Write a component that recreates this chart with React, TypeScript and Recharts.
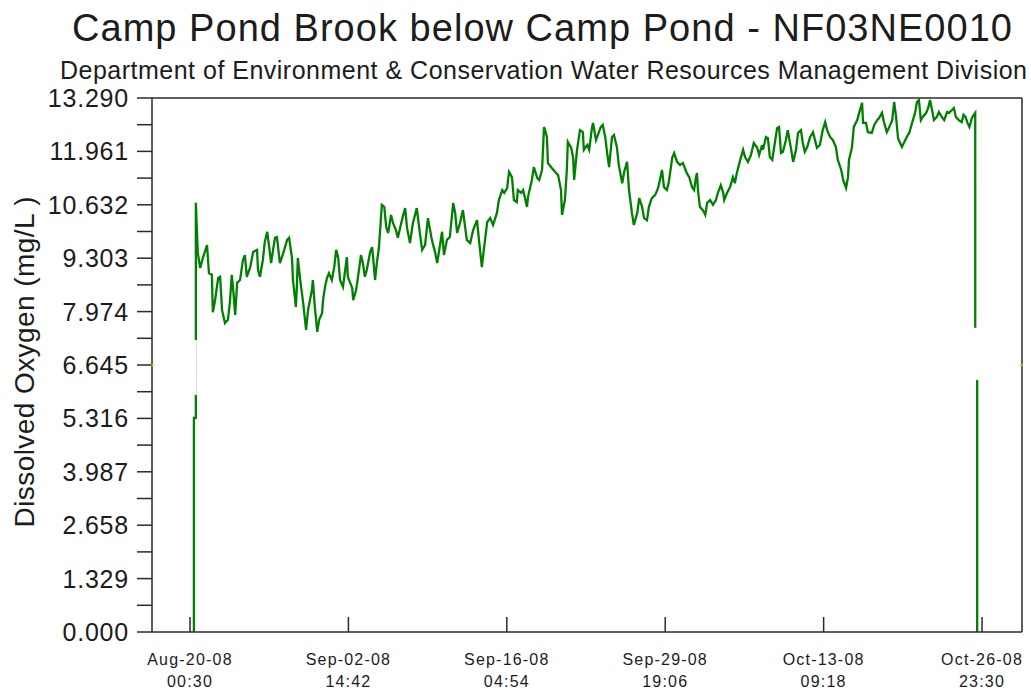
import React from 'react';
import {
  LineChart,
  Line,
  XAxis,
  YAxis,
  ReferenceLine,
  ReferenceArea,
  ReferenceDot,
} from 'recharts';

const FONT = '"Liberation Sans", Arial, sans-serif';
const INK = '#1c1c1c';
const AXIS = '#2a2a2a';
const TRACE = '#008000';
const GUIDE = '#f0a030';

const TITLE = 'Camp Pond Brook below Camp Pond - NF03NE0010';
const SUBTITLE =
  'Department of Environment & Conservation Water Resources Management Division';
const Y_LABEL = 'Dissolved Oxygen (mg/L )';

// Time axis: hours since Aug-20-08 00:30
const xDomain: [number, number] = [-78.3, 1713.3];
const xTickHours = [0, 326.2, 652.4, 978.6, 1304.8, 1631];
const xTickDates = ['Aug-20-08', 'Sep-02-08', 'Sep-16-08', 'Sep-29-08', 'Oct-13-08', 'Oct-26-08'];
const xTickTimes = ['00:30', '14:42', '04:54', '19:06', '09:18', '23:30'];

// Value axis (mg/L)
const yTickValues = [0, 1.329, 2.658, 3.987, 5.316, 6.645, 7.974, 9.303, 10.632, 11.961, 13.29];
const yTickLabels = ['0.000', '1.329', '2.658', '3.987', '5.316', '6.645', '7.974', '9.303', '10.632', '11.961', '13.290'];
const guideLevel = 6.645;

// Dissolved oxygen readings: [hour, mg/L]
const readings: [number, number][] = [
  [8, 0], [8, 5.33], [12, 5.33], [12, 10.68], [14, 10.05], [16, 9.43], [21, 9.06], [27, 9.33],
  [35, 9.63], [39, 8.93], [45, 8.89], [47, 7.96], [51, 8.21], [58, 8.81], [62, 8.84], [66, 8.01],
  [72, 7.69], [78, 7.77], [82, 8.19], [86, 8.89], [89, 8.51], [93, 7.89], [97, 8.69], [103, 8.76],
  [109, 9.26], [113, 9.38], [117, 8.84], [124, 9.08], [130, 9.46], [138, 9.51], [140, 9.01], [144, 8.84],
  [150, 9.26], [154, 9.71], [159, 9.96], [163, 9.58], [167, 9.18], [171, 9.51], [175, 9.81], [179, 9.83],
  [185, 9.18], [192, 9.43], [200, 9.76], [204, 9.81], [210, 9.31], [212, 8.76], [218, 8.09], [220, 8.59],
  [222, 9.31], [227, 8.76], [233, 8.19], [239, 7.52], [243, 8.01], [251, 8.51], [253, 8.76], [257, 8.09],
  [262, 7.47], [266, 7.77], [272, 7.94], [274, 8.26], [278, 8.59], [282, 8.81], [286, 8.93], [292, 8.76],
  [297, 9.08], [301, 9.51], [305, 9.33], [309, 8.76], [315, 8.59], [323, 9.33], [325, 8.84], [334, 8.56],
  [336, 8.26], [342, 8.51], [346, 8.84], [352, 9.38], [356, 9.18], [360, 8.84], [364, 9.01], [371, 9.46],
  [375, 9.58], [377, 9.33], [381, 8.76], [385, 9.21], [389, 9.56], [395, 10.63], [400, 10.58], [404, 10.08],
  [408, 9.93], [414, 10.38], [418, 10.18], [424, 10.0], [428, 9.81], [435, 10.18], [439, 10.38], [443, 10.55],
  [447, 10.05], [453, 9.68], [459, 10.18], [467, 10.55], [472, 10.05], [478, 9.51], [484, 9.63], [490, 10.3],
  [498, 9.76], [505, 9.43], [509, 9.18], [519, 9.96], [523, 9.38], [529, 9.76], [535, 9.83], [542, 10.68],
  [546, 10.43], [550, 9.93], [556, 10.18], [562, 10.5], [570, 9.76], [577, 9.68], [583, 10.0], [591, 10.25],
  [595, 9.76], [601, 9.08], [605, 9.51], [612, 10.2], [618, 10.3], [624, 10.13], [632, 10.43], [636, 10.75],
  [643, 11.0], [647, 10.93], [653, 11.05], [657, 11.45], [663, 11.32], [667, 10.75], [673, 10.7], [675, 11.0],
  [682, 10.93], [686, 11.0], [694, 10.58], [696, 10.83], [704, 11.25], [708, 11.57], [715, 11.3], [719, 11.25],
  [725, 11.5], [729, 12.57], [735, 12.32], [737, 11.67], [745, 11.55], [752, 11.45], [758, 11.37], [764, 11.0],
  [766, 10.38], [772, 10.75], [776, 11.5], [778, 12.2], [785, 12.05], [789, 11.8], [791, 11.25], [797, 12.0],
  [803, 12.49], [809, 12.44], [811, 12.0], [818, 12.12], [822, 12.0], [828, 12.57], [830, 12.67], [836, 12.24],
  [840, 12.37], [846, 12.57], [850, 12.62], [855, 12.32], [859, 11.92], [863, 11.57], [869, 12.32], [873, 12.37],
  [879, 12.07], [883, 11.62], [890, 11.17], [894, 11.45], [900, 11.7], [904, 11.0], [910, 10.43], [914, 10.13],
  [921, 10.43], [925, 10.8], [931, 10.58], [935, 10.3], [941, 10.25], [945, 10.58], [951, 10.8], [958, 10.88],
  [964, 11.05], [972, 11.5], [976, 11.07], [982, 11.0], [986, 11.2], [993, 11.8], [997, 11.92], [1003, 11.7],
  [1009, 11.62], [1015, 11.67], [1023, 11.42], [1028, 11.32], [1034, 11.07], [1038, 11.0], [1042, 11.32], [1044, 11.42],
  [1046, 11.0], [1050, 10.58], [1056, 10.5], [1061, 10.38], [1065, 10.68], [1071, 10.75], [1077, 10.63], [1083, 10.75],
  [1087, 10.93], [1093, 11.12], [1098, 10.93], [1100, 10.75], [1106, 10.93], [1112, 11.07], [1118, 11.32], [1122, 11.17],
  [1126, 11.42], [1133, 11.75], [1139, 12.0], [1143, 11.82], [1149, 11.7], [1155, 11.87], [1161, 12.17], [1168, 12.05],
  [1172, 11.87], [1178, 12.12], [1180, 12.0], [1186, 12.32], [1190, 12.29], [1194, 11.82], [1199, 11.75], [1203, 12.07],
  [1209, 12.54], [1213, 12.57], [1217, 11.92], [1221, 11.95], [1227, 12.24], [1231, 12.49], [1238, 12.0], [1242, 11.7],
  [1248, 12.0], [1252, 12.42], [1258, 12.49], [1262, 12.17], [1266, 11.95], [1271, 12.07], [1277, 12.32], [1283, 12.44],
  [1287, 12.24], [1291, 12.05], [1297, 12.12], [1303, 12.49], [1308, 12.69], [1312, 12.49], [1318, 12.32], [1324, 12.24],
  [1330, 12.07], [1334, 11.75], [1341, 11.5], [1345, 11.25], [1351, 11.05], [1355, 11.32], [1357, 11.75], [1363, 12.05],
  [1367, 12.57], [1374, 12.74], [1378, 12.92], [1384, 13.17], [1386, 12.67], [1392, 12.67], [1396, 12.44], [1404, 12.42],
  [1409, 12.62], [1415, 12.74], [1419, 12.79], [1425, 12.92], [1429, 12.69], [1435, 12.44], [1439, 12.54], [1446, 12.74],
  [1450, 13.19], [1454, 12.82], [1458, 12.29], [1466, 12.07], [1470, 12.17], [1476, 12.32], [1481, 12.42], [1487, 12.67],
  [1493, 12.92], [1497, 13.19], [1501, 13.24], [1505, 12.74], [1509, 12.82], [1516, 12.92], [1520, 13.04], [1524, 13.24],
  [1528, 12.99], [1532, 12.74], [1538, 12.82], [1542, 12.94], [1548, 12.82], [1553, 12.74], [1559, 12.94], [1563, 12.92],
  [1569, 12.99], [1573, 13.04], [1577, 12.82], [1583, 12.74], [1589, 12.69], [1593, 12.87], [1597, 12.82], [1601, 12.67],
  [1605, 12.57], [1610, 12.79], [1614, 12.87], [1617, 12.92], [1617, 6.9], [1621, 6.9], [1621, 0],
];

// Blank bands where the trace is interrupted: [fromHour, toHour, low, high]
const gapBands: [number, number, number, number][] = [
  [4, 14, 5.9, 7.27],
  [1612, 1626, 6.27, 7.57],
];

const rows = readings.map(([hour, value]) => ({ hour, value }));

// major ticks carry labels, minor ticks sit halfway between them
const yAllTicks = yTickValues.flatMap((v, i) =>
  i < yTickValues.length - 1 ? [v, (v + yTickValues[i + 1]) / 2] : [v]
);

function YTick(props: any) {
  const { x, y, payload } = props;
  const idx = yTickValues.findIndex((v) => Math.abs(v - payload.value) < 1e-6);
  if (idx < 0) return null;
  return (
    <text
      x={x}
      y={y}
      dy={9}
      textAnchor="end"
      fontFamily={FONT}
      fontSize={25}
      letterSpacing={0.8}
      fill={INK}
    >
      {yTickLabels[idx]}
    </text>
  );
}

function XTick(props: any) {
  const { x, y, payload } = props;
  const idx = xTickHours.findIndex((h) => Math.abs(h - payload.value) < 0.01);
  if (idx < 0) return null;
  return (
    <g>
      <line x1={x} x2={x} y1={y} y2={y - 15} stroke={AXIS} strokeWidth={1.5} />
      <text x={x} y={y + 33} textAnchor="middle" fontFamily={FONT} fontSize={16} letterSpacing={1.2} fill={INK}>
        {xTickDates[idx]}
      </text>
      <text x={x} y={y + 55} textAnchor="middle" fontFamily={FONT} fontSize={16} letterSpacing={1.2} fill={INK}>
        {xTickTimes[idx]}
      </text>
    </g>
  );
}

export default function App() {
  return (
    <div
      style={{
        position: 'absolute',
        left: 0,
        top: 0,
        width: 1031,
        height: 691,
        background: '#ffffff',
        fontFamily: FONT,
      }}
    >
      <LineChart
        width={1031}
        height={691}
        data={rows}
        margin={{ top: 98, right: 9, bottom: 0, left: 0 }}
      >
        <XAxis
          type="number"
          dataKey="hour"
          domain={xDomain}
          ticks={xTickHours}
          interval={0}
          allowDataOverflow
          height={59}
          tickSize={0}
          tickMargin={0}
          tickLine={false}
          axisLine={{ stroke: AXIS, strokeWidth: 1.5 }}
          tick={<XTick />}
        />
        <YAxis
          type="number"
          domain={[0, 13.29]}
          ticks={yAllTicks}
          interval={0}
          allowDataOverflow
          width={152}
          tickSize={15}
          tickMargin={8}
          tickLine={{ stroke: AXIS, strokeWidth: 1.5 }}
          axisLine={{ stroke: AXIS, strokeWidth: 1.5 }}
          tick={<YTick />}
        />
        <ReferenceLine y={13.29} stroke={AXIS} strokeWidth={1.5} />
        <ReferenceLine x={xDomain[1]} stroke={AXIS} strokeWidth={1.5} />
        <Line
          type="linear"
          dataKey="value"
          stroke={TRACE}
          strokeWidth={2.3}
          strokeLinejoin="miter"
          dot={false}
          activeDot={false}
          isAnimationActive={false}
        />
        {gapBands.map(([x1, x2, y1, y2], i) => (
          <ReferenceArea
            key={i}
            x1={x1}
            x2={x2}
            y1={y1}
            y2={y2}
            fill="#ffffff"
            fillOpacity={1}
            stroke="none"
            zIndex={450}
          />
        ))}
        <ReferenceDot x={xDomain[0] + 1} y={guideLevel} r={1.3} fill={GUIDE} stroke="none" />
        <ReferenceDot x={xDomain[1] - 1} y={guideLevel} r={1.3} fill={GUIDE} stroke="none" />
      </LineChart>
      <svg
        width={1031}
        height={691}
        style={{ position: 'absolute', left: 0, top: 0, pointerEvents: 'none' }}
      >
        <text x={72} y={41} fontFamily={FONT} fontSize={38} fill={INK} textLength={940} lengthAdjust="spacing">
          {TITLE}
        </text>
        <text x={60} y={79} fontFamily={FONT} fontSize={25} fill={INK} textLength={967} lengthAdjust="spacing">
          {SUBTITLE}
        </text>
        <text
          transform="translate(34,362) rotate(-90)"
          textAnchor="middle"
          fontFamily={FONT}
          fontSize={28}
          fill={INK}
          textLength={331}
          lengthAdjust="spacing"
        >
          {Y_LABEL}
        </text>
      </svg>
    </div>
  );
}
